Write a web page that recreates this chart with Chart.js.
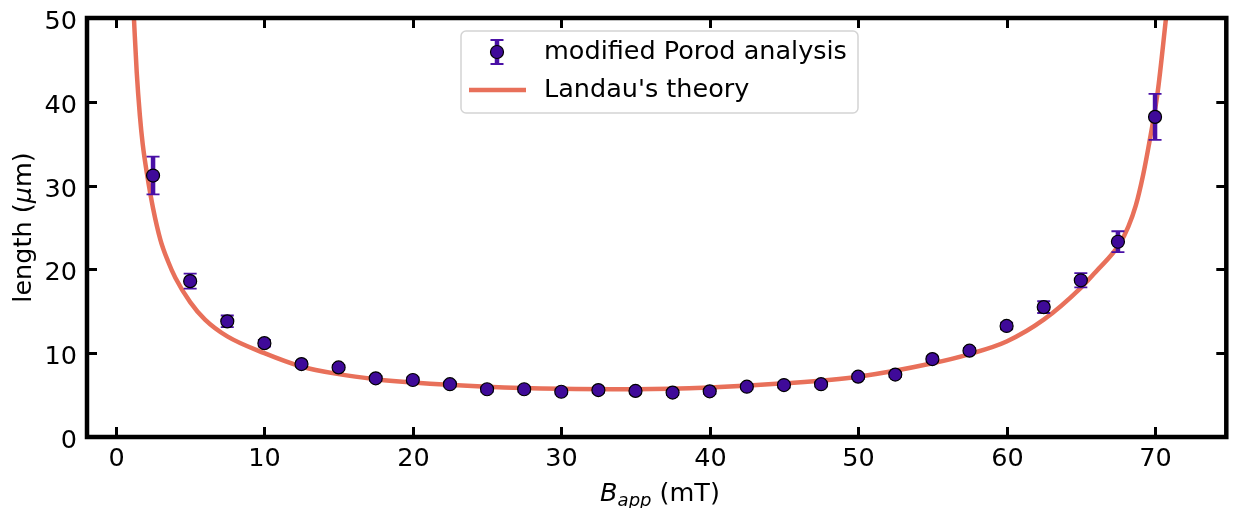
<!DOCTYPE html>
<html>
<head>
<meta charset="utf-8">
<script src="https://cdn.jsdelivr.net/npm/chart.js@4"></script>
<style>
  html, body { margin: 0; padding: 0; background: #fff; }
  #c { display: block; }
</style>
</head>
<body>
<canvas id="c" width="1234" height="508"></canvas>
<script>
// ---- data ----
const fieldB = [2.5, 5, 7.5, 10, 12.5, 15, 17.5, 20, 22.5, 25, 27.5, 30, 32.5, 35, 37.5, 40,
                42.5, 45, 47.5, 50, 52.5, 55, 57.5, 60, 62.5, 65, 67.5, 70];
const porodLength = [31.2, 18.6, 13.8, 11.2, 8.7, 8.3, 7.0, 6.8, 6.3, 5.7, 5.7, 5.4, 5.6, 5.5, 5.3, 5.45,
                     6.0, 6.2, 6.3, 7.2, 7.45, 9.3, 10.3, 13.25, 15.5, 18.7, 23.3, 38.2];
const porodError = [2.25, 0.9, 0.7, 0.4, 0.3, 0.3, 0.3, 0.3, 0.3, 0.3, 0.3, 0.3, 0.3, 0.3, 0.3, 0.3,
                    0.3, 0.3, 0.3, 0.3, 0.3, 0.3, 0.3, 0.4, 0.7, 0.85, 1.25, 2.75];
const theoryB = [1.21, 1.4, 1.61, 1.8, 2.1, 2.5, 3.0, 3.5, 4.0, 5.0, 6.0, 7.5, 10, 12.5, 15, 17.5, 20,
                 25, 30, 35, 40, 45, 50, 55, 57.5, 60, 62.5, 65, 66.0, 67.6, 68.2, 68.7, 69.2, 69.6, 70.18, 70.74];
const theoryLength = [50, 43.5, 38.4, 35.0, 31.3, 27.3, 23.5, 21.0, 19.0, 16.1, 14.0, 12.0, 10.0, 8.4, 7.5, 6.9, 6.5,
                      6.0, 5.75, 5.7, 5.9, 6.4, 7.2, 8.8, 9.9, 11.4, 14.0, 17.8, 19.7, 23.0, 25.1, 27.6, 31.3, 35.0, 41.2, 50];
const xTicks = [0, 10, 20, 30, 40, 50, 60, 70];
const yTicks = [0, 10, 20, 30, 40, 50];
const legendLabels = ["modified Porod analysis", "Landau's theory"];

const FONT = '"DejaVu Sans", sans-serif';
const FS = 25.5;
const MARKER = '#3f0a99';
const ERR = '#4a10a6';
const CURVE = '#e8705a';

const porodData = fieldB.map((b, i) => ({ x: b, y: porodLength[i] }));
const theoryData = theoryB.map((b, i) => ({ x: b, y: theoryLength[i] }));

function errorBar(ctx, px, top, bot) {
  ctx.strokeStyle = ERR;
  ctx.lineWidth = 4.5;
  ctx.beginPath(); ctx.moveTo(px, top); ctx.lineTo(px, bot); ctx.stroke();
  ctx.lineWidth = 1.8;
  ctx.beginPath();
  ctx.moveTo(px - 6.5, top); ctx.lineTo(px + 6.5, top);
  ctx.moveTo(px - 6.5, bot); ctx.lineTo(px + 6.5, bot);
  ctx.stroke();
}

const decor = {
  id: 'decor',
  afterDatasetDraw(chart, args) {
    if (args.index !== 1) return;
    const ctx = chart.ctx, xs = chart.scales.x, ys = chart.scales.y;
    ctx.save();
    fieldB.forEach((b, i) => {
      errorBar(ctx, xs.getPixelForValue(b),
        ys.getPixelForValue(porodLength[i] + porodError[i]),
        ys.getPixelForValue(porodLength[i] - porodError[i]));
    });
    ctx.restore();
  },
  afterDraw(chart) {
    const ctx = chart.ctx, xs = chart.scales.x, ys = chart.scales.y;
    const a = chart.chartArea;
    ctx.save();
    const fMain = FS + 'px ' + FONT, fIt = 'italic ' + FS + 'px ' + FONT, fSub = 'italic 18px ' + FONT;
    ctx.strokeStyle = '#000';
    ctx.fillStyle = '#000';
    ctx.lineWidth = 3;
    ctx.font = fMain;
    const tl = 10;
    xTicks.forEach(v => {
      const px = Math.round(xs.getPixelForValue(v)) + 0.5;
      ctx.beginPath();
      ctx.moveTo(px, a.bottom); ctx.lineTo(px, a.bottom - tl);
      ctx.moveTo(px, a.top); ctx.lineTo(px, a.top + tl);
      ctx.stroke();
      ctx.textAlign = 'center'; ctx.textBaseline = 'alphabetic';
      ctx.fillText(String(v), px, 466);
    });
    yTicks.forEach(v => {
      const py = Math.round(ys.getPixelForValue(v)) + 0.5;
      ctx.beginPath();
      ctx.moveTo(a.left, py); ctx.lineTo(a.left + tl, py);
      ctx.moveTo(a.right, py); ctx.lineTo(a.right - tl, py);
      ctx.stroke();
      ctx.textAlign = 'right'; ctx.textBaseline = 'alphabetic';
      ctx.fillText(String(v), 77, py + 10);
    });
    ctx.lineWidth = 4.5;
    ctx.strokeRect(a.left, a.top, a.right - a.left, a.bottom - a.top);

    // x title: B_app (mT)
    ctx.textBaseline = 'alphabetic';
    ctx.textAlign = 'left';
    ctx.font = fIt; const wB = ctx.measureText('B').width;
    ctx.font = fSub; const wS = ctx.measureText('app').width;
    ctx.font = fMain; const wR = ctx.measureText(' (mT)').width;
    let sx = 660 - (wB + wS + wR) / 2;
    const by = 501;
    ctx.font = fIt; ctx.fillText('B', sx, by); sx += wB;
    ctx.font = fSub; ctx.fillText('app', sx, by + 5); sx += wS;
    ctx.font = fMain; ctx.fillText(' (mT)', sx, by);

    // y title: length (μm)
    ctx.save();
    ctx.translate(31, (a.top + a.bottom) / 2);
    ctx.rotate(-Math.PI / 2);
    const p1 = 'length (', p2 = 'μ', p3 = 'm)';
    ctx.font = fMain; const w1 = ctx.measureText(p1).width, w3 = ctx.measureText(p3).width;
    ctx.font = fIt; const w2 = ctx.measureText(p2).width;
    let yx = -(w1 + w2 + w3) / 2;
    ctx.font = fMain; ctx.fillText(p1, yx, 0); yx += w1;
    ctx.font = fIt; ctx.fillText(p2, yx, 0); yx += w2;
    ctx.font = fMain; ctx.fillText(p3, yx, 0);
    ctx.restore();

    // legend
    const L = { x: 461, y: 31, w: 397, h: 82 };
    ctx.fillStyle = 'rgba(255,255,255,0.85)';
    ctx.strokeStyle = '#d4d4d4';
    ctx.lineWidth = 1.5;
    ctx.beginPath();
    ctx.roundRect(L.x, L.y, L.w, L.h, 5);
    ctx.fill(); ctx.stroke();
    const mx = 497, r1 = 52, r2 = 90;
    errorBar(ctx, mx, r1 - 12, r1 + 12);
    ctx.fillStyle = MARKER; ctx.strokeStyle = '#000'; ctx.lineWidth = 1.2;
    ctx.beginPath(); ctx.arc(mx, r1, 6.5, 0, Math.PI * 2); ctx.fill(); ctx.stroke();
    ctx.strokeStyle = CURVE; ctx.lineWidth = 4.5;
    ctx.beginPath(); ctx.moveTo(469, r2); ctx.lineTo(526, r2); ctx.stroke();
    ctx.fillStyle = '#000';
    ctx.font = fMain;
    ctx.textAlign = 'left';
    ctx.textBaseline = 'middle';
    ctx.fillText(legendLabels[0], 544, r1);
    ctx.fillText(legendLabels[1], 544, r2);
    ctx.restore();
  }
};

new Chart(document.getElementById('c'), {
  type: 'scatter',
  data: {
    datasets: [
      {
        label: legendLabels[0],
        data: porodData,
        order: 0,
        pointRadius: 6.5,
        pointHoverRadius: 6.5,
        pointBackgroundColor: MARKER,
        pointBorderColor: '#000',
        pointBorderWidth: 1.2,
        showLine: false
      },
      {
        label: legendLabels[1],
        type: 'line',
        data: theoryData,
        order: 1,
        borderColor: CURVE,
        borderWidth: 4.5,
        pointRadius: 0,
        fill: false,
        cubicInterpolationMode: 'monotone',
        clip: 0
      }
    ]
  },
  options: {
    responsive: false,
    animation: false,
    events: [],
    layout: { padding: { left: 0, right: 3, top: 18, bottom: 0 } },
    plugins: { legend: { display: false }, tooltip: { enabled: false } },
    scales: {
      x: {
        type: 'linear',
        min: -1.95,
        max: 74.8,
        afterFit(s) { s.height = 71; },
        afterBuildTicks(s) { s.ticks = xTicks.map(v => ({ value: v })); },
        grid: { display: false, drawTicks: false },
        border: { display: false },
        ticks: { display: false }
      },
      y: {
        type: 'linear',
        min: 0,
        max: 50,
        afterFit(s) { s.width = 87; },
        afterBuildTicks(s) { s.ticks = yTicks.map(v => ({ value: v })); },
        grid: { display: false, drawTicks: false },
        border: { display: false },
        ticks: { display: false }
      }
    }
  },
  plugins: [decor]
});
</script>
</body>
</html>
